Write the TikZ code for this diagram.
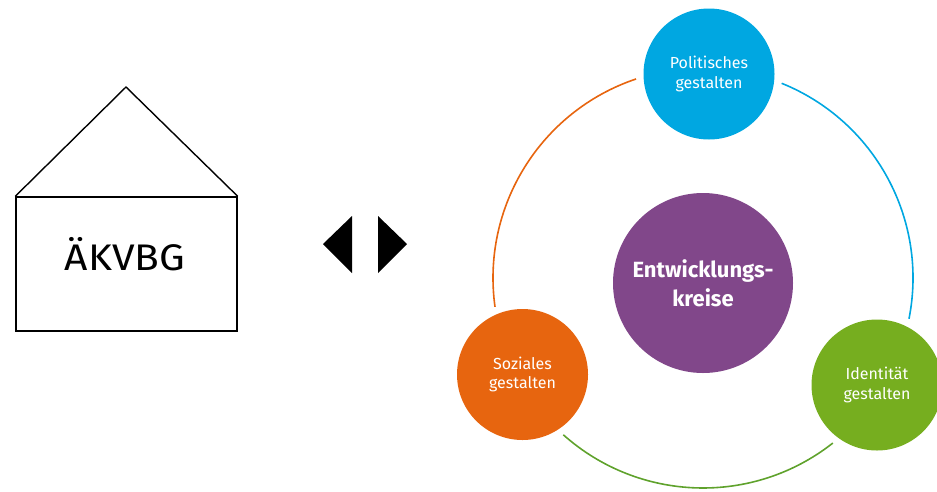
\documentclass[tikz,border=0pt]{standalone}
\usepackage{fontspec}
\setmainfont{Fira Sans}
\definecolor{cblue}{HTML}{00A7E1}
\definecolor{corange}{HTML}{E7650F}
\definecolor{cgreen}{HTML}{76AE1F}
\definecolor{cgreenline}{HTML}{5FA22C}
\definecolor{cpurple}{HTML}{81478A}
\begin{document}
\begin{tikzpicture}[x=1pt,y=-1pt,
  small/.style={circle,minimum size=131pt,inner sep=0pt,text=white,align=center,
     font=\fontsize{16}{19.5}\selectfont},
  ringarc/.style={line width=1.6pt}]
\useasboundingbox (0,0) rectangle (937,491);
% house
\node[draw=black,line width=1.4pt,minimum width=221pt,minimum height=134pt,inner sep=0pt] (house) at (126.5,264) {};
\node[font=\fontsize{37}{40}\selectfont,inner sep=0pt] (houselabel) at (125,254) {\scalebox{1.1}[1]{ÄKVBG}};
\coordinate (apex) at (126,87);
\draw[line width=1.4pt,line join=miter] (house.north west) -- (apex) -- (house.north east);
% arrows
\coordinate (lt) at (323,244);
\coordinate (lt1) at (352,216);
\coordinate (lt2) at (352,273);
\coordinate (rt) at (407,244);
\coordinate (rt1) at (378,216);
\coordinate (rt2) at (378,273);
\fill (lt) -- (lt1) -- (lt2) -- cycle;
\fill (rt) -- (rt1) -- (rt2) -- cycle;
% ring arcs
\begin{scope}[shift={(703,278)},x=1pt,y=1pt]
  \coordinate (oS) at (108.6:210);
  \coordinate (bS) at (68:210);
  \coordinate (gS) at (228.3:210);
  \draw[ringarc,corange] (oS) arc[start angle=108.6,end angle=187.9,radius=210];
  \draw[ringarc,cblue] (bS) arc[start angle=68,end angle=-11.2,radius=210];
  \draw[ringarc,cgreenline] (gS) arc[start angle=228.3,end angle=308.2,radius=210];
\end{scope}
% circles
\node[small,fill=cblue] (pol) at (709,74) {Politisches\\gestalten};
\node[small,fill=corange] (soz) at (522.5,374.5) {Soziales\\gestalten};
\node[small,fill=cgreen] (ide) at (877,385) {Identität\\gestalten};
\node[circle,fill=cpurple,minimum size=180pt,inner sep=0pt,text=white,align=center,
  font=\bfseries\fontsize{22}{29}\selectfont] (ent) at (703,283) {Entwicklungs-\\kreise};
\end{tikzpicture}
\end{document}
